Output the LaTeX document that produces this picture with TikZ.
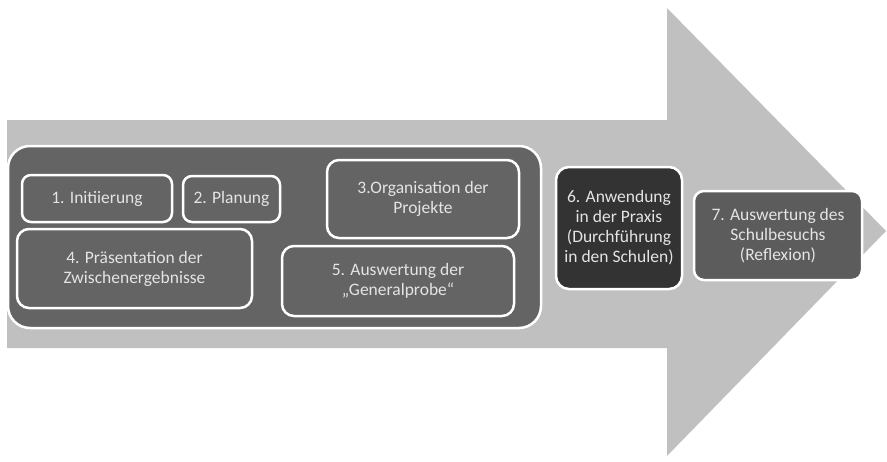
\documentclass[tikz,border=0pt]{standalone}
\usepackage{fontspec}
\setmainfont{Carlito}
\usetikzlibrary{positioning}
\definecolor{arrowgray}{HTML}{C0C0C0}
\definecolor{boxgray}{HTML}{646464}
\definecolor{darkbox}{HTML}{333333}
\definecolor{textgray}{HTML}{E4E4E4}
\tikzset{
	phase/.style={draw=white, line width=2.5pt, fill=boxgray, rounded corners=9pt, text=textgray, align=center, font=\fontsize{17.5}{20}\selectfont, inner sep=0pt},
}

\begin{document}
\begin{tikzpicture}[x=1pt, y=-1pt]
			%%%%% START %%%%%
			\useasboundingbox (0, 0) rectangle (887, 461);
			
			% big arrow
			\fill[arrowgray] (7, 120) -- (667, 120) -- (667, 8) -- (886, 231) -- (667, 456) -- (667, 348) -- (7, 348) -- cycle;
			
			% container of phases 1-5
			\node[phase, rounded corners=22pt, minimum width=533pt, minimum height=182pt] (group) at (274.5, 237) {};
			
			\node[phase, minimum width=150pt, minimum height=47pt] (p1) at (97, 198.5) {1. Initiierung};
			\node[phase, minimum width=97pt, minimum height=46pt] (p2) at (231.5, 199) {2. Planung};
			\node[phase, rounded corners=12pt, minimum width=192pt, minimum height=78pt] (p3) at (423, 199) {3.Organisation der\\Projekte};
			\node[phase, rounded corners=12pt, minimum width=235pt, minimum height=79pt] (p4) at (134.5, 268.5) {4. Präsentation der\\Zwischenergebnisse};
			\node[phase, rounded corners=12pt, minimum width=232pt, minimum height=70pt] (p5) at (398, 281) {5. Auswertung der\\„Generalprobe“};
			
			\node[phase, fill=darkbox, rounded corners=13pt, minimum width=126pt, minimum height=122pt] (p6) at (619, 228) {6. Anwendung\\in der Praxis\\(Durchführung\\in den Schulen)};
			\node[phase, fill=boxgray!105, rounded corners=10pt, minimum width=168pt, minimum height=89pt] (p7) at (778, 235.5) {7. Auswertung des\\Schulbesuchs\\(Reflexion)};
			
			%%%%% END %%%%%
\end{tikzpicture}
\end{document}
